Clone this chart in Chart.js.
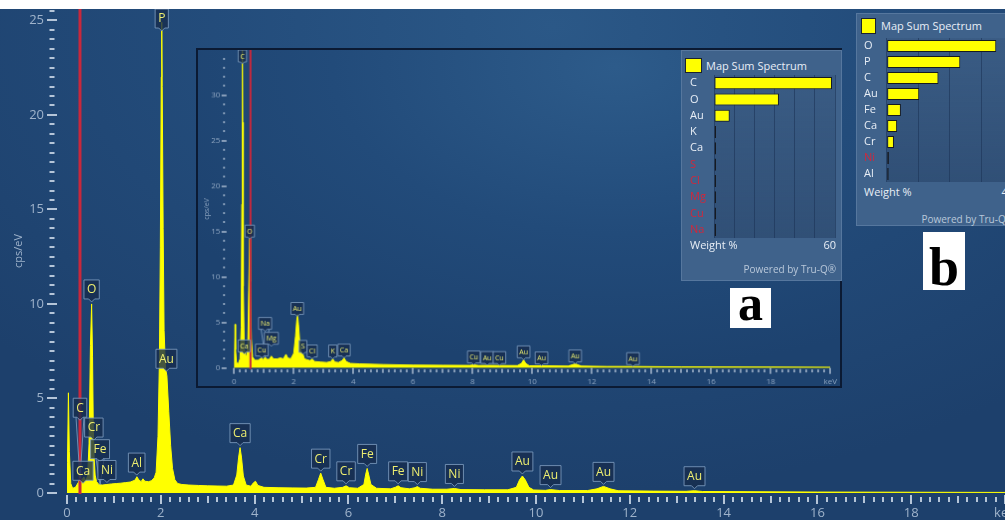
<!DOCTYPE html>
<html>
<head>
<meta charset="utf-8">
<script src="https://cdn.jsdelivr.net/npm/chart.js@4.4.1/dist/chart.umd.min.js"></script>
<style>
  html, body { margin: 0; padding: 0; }
  body {
    width: 1005px; height: 520px; overflow: hidden; position: relative;
    font-family: 'Open Sans', sans-serif;
    background: radial-gradient(ellipse 75% 90% at 55% 5%, #2b5887 0%, #234c7b 45%, #1d406c 100%);
  }
  #topStrip { position: absolute; left: 0; top: 0; width: 1005px; height: 9px; background: #fff; z-index: 5; }
  #mainChart { position: absolute; left: 0; top: 0; }
  #insetChart {
    position: absolute; left: 196px; top: 48px; border: 2px solid #0b1a33;
    background: radial-gradient(ellipse 80% 90% at 65% 5%, #2d5b8a 0%, #224b7a 55%, #1d426f 100%);
  }
  .panel { position: absolute; background: #3f628b; box-shadow: inset 0 0 0 1px rgba(130,160,195,0.35); color: #e8eef6; overflow: hidden; }
  .panel canvas { position: absolute; left: 0; }
  .swatch { position: absolute; background: #ffff00; box-shadow: 0 0 0 1px #1b2230; }
  .ptitle { position: absolute; font-size: 11px; line-height: 15px; white-space: nowrap; }
  .foot { position: absolute; font-size: 11px; line-height: 15px; white-space: nowrap; }
  .powered { position: absolute; font-size: 10px; line-height: 14px; color: #b9c8da; white-space: nowrap; }
  .letter { position: absolute; background: #fff; color: #000; font-family: 'Liberation Serif', 'DejaVu Serif', serif; font-weight: bold; text-align: center; overflow: hidden; }
</style>
</head>
<body>
<div id="topStrip"></div>
<canvas id="mainChart" width="1005" height="520"></canvas>
<canvas id="insetChart" width="646" height="340"></canvas>

<div class="panel" style="left:681px;top:50px;width:161px;height:231px;">
  <div class="swatch" style="left:5px;top:9px;width:15px;height:13px;"></div>
  <div class="ptitle" style="left:25px;top:8px;">Map Sum Spectrum</div>
  <canvas id="barA" width="161" height="163" style="top:25px;"></canvas>
  <div class="foot" style="left:9px;top:187px;">Weight %</div>
  <div class="foot" style="right:6px;top:187px;">60</div>
  <div class="powered" style="right:6px;top:212px;">Powered by Tru-Q®</div>
</div>
<div class="letter" style="left:730px;top:288px;width:41px;height:40px;font-size:50px;line-height:30px;">a</div>

<div class="panel" style="left:856px;top:13px;width:170px;height:213px;">
  <div class="swatch" style="left:6px;top:6px;width:13px;height:14px;"></div>
  <div class="ptitle" style="left:25px;top:5px;">Map Sum Spectrum</div>
  <canvas id="barB" width="160" height="144" style="top:25px;"></canvas>
  <div class="foot" style="left:8px;top:171px;">Weight %</div>
  <div class="foot" style="right:12px;top:171px;">40</div>
  <div class="powered" style="right:12px;top:199px;">Powered by Tru-Q®</div>
</div>
<div class="letter" style="left:923px;top:232px;width:42px;height:58px;font-size:54px;line-height:70px;">b</div>

<script>
// main spectrum (b)
const mainKeV = [0, 0.01, 0.03, 0.05, 0.08, 0.12, 0.18, 0.24, 0.28, 0.32, 0.36, 0.40, 0.44, 0.47, 0.50, 0.525, 0.545, 0.56, 0.58, 0.60,
  0.63, 0.68, 0.75, 0.85, 0.95, 1.05, 1.15, 1.25, 1.35, 1.45, 1.49, 1.53, 1.58, 1.62, 1.66, 1.74, 1.80, 1.86, 1.90, 1.94,
  1.97, 1.99, 2.01, 2.02, 2.03, 2.05, 2.07, 2.10, 2.13, 2.17, 2.21, 2.25, 2.30, 2.36, 2.45, 2.6, 2.8, 3.0, 3.2, 3.4,
  3.55, 3.62, 3.66, 3.69, 3.72, 3.76, 3.82, 3.92, 3.98, 4.02, 4.07, 4.2, 4.5, 4.8, 5.1, 5.3, 5.36, 5.41, 5.46, 5.52,
  5.7, 5.88, 5.95, 6.02, 6.2, 6.33, 6.37, 6.40, 6.43, 6.48, 6.6, 6.9, 7.0, 7.06, 7.12, 7.3, 7.42, 7.47, 7.53, 7.8,
  8.1, 8.26, 8.4, 8.9, 9.4, 9.58, 9.65, 9.71, 9.77, 9.85, 9.95, 10.2, 10.31, 10.5, 11.1, 11.3, 11.44, 11.58, 11.75, 12.5,
  13.2, 13.38, 13.55, 14.5, 16, 18, 20];
const mainCps = [0, 1.6, 5.3, 2.2, 0.5, 0.25, 0.3, 0.55, 0.8, 0.7, 0.85, 0.65, 0.9, 2.6, 7.8, 10.0, 7.2, 3.6, 1.8, 0.95,
  0.6, 0.45, 0.42, 0.45, 0.48, 0.5, 0.52, 0.55, 0.58, 0.68, 0.86, 0.7, 0.6, 0.75, 0.62, 0.6, 0.65, 0.8, 1.1, 3.0,
  7.0, 13.0, 22.0, 24.9, 21.5, 14.0, 8.6, 6.6, 6.2, 4.3, 2.5, 1.3, 0.7, 0.5, 0.45, 0.42, 0.4, 0.38, 0.37, 0.36,
  0.42, 0.95, 1.9, 2.4, 1.9, 0.9, 0.42, 0.36, 0.55, 0.62, 0.4, 0.3, 0.28, 0.27, 0.26, 0.3, 0.7, 1.05, 0.7, 0.3,
  0.25, 0.3, 0.38, 0.28, 0.25, 0.45, 1.0, 1.3, 1.0, 0.45, 0.25, 0.22, 0.3, 0.38, 0.28, 0.22, 0.28, 0.34, 0.25, 0.2,
  0.2, 0.24, 0.18, 0.17, 0.17, 0.3, 0.7, 0.9, 0.7, 0.3, 0.16, 0.14, 0.18, 0.13, 0.13, 0.22, 0.35, 0.22, 0.12, 0.1,
  0.09, 0.12, 0.08, 0.07, 0.05, 0.04, 0.03];
const mainPeakNames = ['P', 'O', 'Au', 'C', 'Cr', 'Fe', 'Ni', 'Ca', 'Al', 'Ca', 'Cr', 'Cr', 'Fe', 'Fe', 'Ni', 'Ni', 'Au', 'Au', 'Au', 'Au'];
const mainPeakKeV = [2.02, 0.525, 2.12, 0.277, 0.573, 0.705, 0.851, 0.341, 1.486, 3.69, 5.41, 5.95, 6.40, 7.06, 7.47, 8.26, 9.71, 10.31, 11.44, 13.38];
const mainMarkerKeV = 0.277;

// inset spectrum (a)
const insetKeV = [0, 0.01, 0.03, 0.05, 0.08, 0.14, 0.2, 0.24, 0.26, 0.277, 0.29, 0.31, 0.34, 0.38, 0.42, 0.46, 0.49, 0.525, 0.55, 0.58,
  0.62, 0.7, 0.8, 0.93, 0.98, 1.04, 1.1, 1.18, 1.25, 1.32, 1.45, 1.55, 1.65, 1.74, 1.8, 1.9, 2.0, 2.06, 2.1, 2.13,
  2.16, 2.2, 2.25, 2.31, 2.36, 2.45, 2.55, 2.62, 2.7, 2.9, 3.1, 3.25, 3.31, 3.38, 3.5, 3.62, 3.69, 3.76, 3.9, 4.2,
  5, 6, 7, 7.9, 8.04, 8.2, 8.49, 8.9, 9.5, 9.64, 9.71, 9.78, 9.9, 10.31, 11.2, 11.44, 11.65, 12.5, 13.38, 15,
  18, 20];
const insetCps = [0, 1.5, 4.8, 2.0, 0.6, 0.45, 1.0, 4.5, 18, 36, 27, 9, 2.2, 1.4, 1.3, 2.6, 8.5, 14.5, 9.5, 3.2,
  1.2, 0.85, 0.85, 1.1, 0.9, 1.2, 0.95, 0.95, 1.3, 1.0, 1.0, 1.1, 1.0, 1.5, 1.1, 1.0, 1.6, 3.5, 5.2, 5.9,
  4.8, 3.0, 1.8, 1.5, 1.0, 0.9, 0.8, 1.0, 0.7, 0.65, 0.6, 0.7, 1.0, 0.65, 0.6, 0.8, 1.1, 0.7, 0.5, 0.45,
  0.38, 0.32, 0.3, 0.28, 0.34, 0.27, 0.28, 0.27, 0.26, 0.5, 0.9, 0.5, 0.24, 0.24, 0.2, 0.45, 0.2, 0.16, 0.16, 0.12,
  0.1, 0.08];
const insetPeakNames = ['C', 'O', 'Au', 'Na', 'Mg', 'Cu', 'Ca', 'S', 'Cl', 'K', 'Ca', 'Cu', 'Au', 'Cu', 'Au', 'Au', 'Au', 'Au'];
const insetPeakKeV = [0.277, 0.525, 2.12, 1.04, 1.25, 0.93, 0.34, 2.31, 2.62, 3.31, 3.69, 8.04, 8.49, 8.9, 9.71, 10.31, 11.44, 13.38];
const insetMarkerKeV = 0.55;

// quant panels
const weightElemA = ['C', 'O', 'Au', 'K', 'Ca', 'S', 'Cl', 'Mg', 'Cu', 'Na'];
const weightA = [58.5, 32.2, 7.8, 0.4, 0.4, 0.2, 0.2, 0.1, 0.1, 0.1];
const flaggedA = ['S', 'Cl', 'Mg', 'Cu', 'Na'];
const weightElemB = ['O', 'P', 'C', 'Au', 'Fe', 'Ca', 'Cr', 'Ni', 'Al'];
const weightB = [34.7, 23.3, 16.4, 10.3, 4.5, 3.3, 2.3, 0.7, 0.1];
const flaggedB = ['Ni'];

const FONT = "'Open Sans', sans-serif";

function valueAt(xs, ys, e) {
  for (let i = 1; i < xs.length; i++) {
    if (xs[i] >= e) {
      const t = (e - xs[i - 1]) / (xs[i] - xs[i - 1]);
      return ys[i - 1] + t * (ys[i] - ys[i - 1]);
    }
  }
  return ys[ys.length - 1];
}

// red marker line + element labels
const spectrumMarks = {
  id: 'spectrumMarks',
  afterDatasetsDraw(chart, args, o) {
    const { ctx, chartArea: a, scales: { x, y } } = chart;
    ctx.save();
    const rx = x.getPixelForValue(o.markerKeV);
    ctx.strokeStyle = '#c8283c';
    ctx.lineWidth = o.markerWidth;
    ctx.beginPath();
    ctx.moveTo(rx, 0);
    ctx.lineTo(rx, a.bottom + 1);
    ctx.stroke();

    ctx.font = o.fontSize + 'px ' + FONT;
    ctx.textAlign = 'center';
    ctx.textBaseline = 'middle';
    o.names.forEach((name, i) => {
      const e = o.keV[i];
      const px = x.getPixelForValue(e);
      const v = Math.min(valueAt(o.xs, o.ys, e), y.max);
      const py = y.getPixelForValue(v);
      const w = ctx.measureText(name).width + o.padX * 2;
      const h = o.boxH;
      let bottom = py - o.gap - (o.lift[i] || 0);
      let top = bottom - h;
      if (top < a.top) { top = a.top; bottom = top + h; }
      const left = px - w / 2;
      const tip = o.tip;
      ctx.strokeStyle = 'rgba(125,155,190,0.85)';
      ctx.lineWidth = 1;
      if (py - bottom > 12) {
        ctx.beginPath();
        ctx.moveTo(px - 4, bottom);
        ctx.lineTo(px, py);
        ctx.lineTo(px + 4, bottom);
        ctx.stroke();
      }
      ctx.beginPath();
      ctx.moveTo(left, top);
      ctx.lineTo(left + w, top);
      ctx.lineTo(left + w, bottom);
      ctx.lineTo(px + tip, bottom);
      ctx.lineTo(px, bottom + tip);
      ctx.lineTo(px - tip, bottom);
      ctx.lineTo(left, bottom);
      ctx.closePath();
      ctx.fillStyle = 'rgba(22,44,78,0.8)';
      ctx.fill();
      ctx.stroke();
      ctx.fillStyle = '#eeee70';
      ctx.fillText(name, px, (top + bottom) / 2 + 0.5);
    });
    ctx.restore();
  }
};

// tick marks along both axes
const axisMarks = {
  id: 'axisMarks',
  afterDraw(chart, args, o) {
    const { ctx, chartArea: a, scales: { x, y } } = chart;
    ctx.save();
    ctx.fillStyle = o.color;
    const near = (v, s) => Math.abs(v / s - Math.round(v / s)) < 1e-6;
    for (let i = 0; i * o.xMinor <= x.max + 1e-9; i++) {
      const v = i * o.xMinor;
      const px = x.getPixelForValue(v);
      const len = near(v, 2) ? o.xLen[2] : near(v, 1) ? o.xLen[1] : o.xLen[0];
      ctx.fillRect(Math.round(px) - o.tw / 2, a.bottom + o.xOff + (o.xLen[2] - len) / 2, o.tw, len);
    }
    for (let i = 0; i * o.yMinor <= y.max + 1e-9; i++) {
      const v = i * o.yMinor;
      const py = y.getPixelForValue(v);
      const len = near(v, 5) ? o.yLen[1] : o.yLen[0];
      ctx.fillRect(o.yCenter - len / 2, Math.round(py) - o.tw / 2, len, o.tw);
    }
    ctx.restore();
  }
};

function spectrumChart(id, xs, ys, cfg) {
  return new Chart(document.getElementById(id), {
    type: 'line',
    data: {
      datasets: [{
        data: xs.map((e, i) => ({ x: e, y: ys[i] })),
        fill: 'origin',
        backgroundColor: '#ffff00',
        borderColor: '#ffff00',
        borderWidth: cfg.lineW,
        pointRadius: 0,
        tension: 0
      }]
    },
    options: {
      responsive: false,
      animation: false,
      devicePixelRatio: 1,
      layout: { padding: cfg.pad, autoPadding: false },
      plugins: {
        legend: { display: false },
        tooltip: { enabled: false },
        spectrumMarks: cfg.marks,
        axisMarks: cfg.axis
      },
      scales: {
        x: {
          type: 'linear', min: 0, max: 20,
          afterFit: s => { s.height = cfg.xH; s.paddingLeft = 0; s.paddingRight = 0; },
          grid: { display: false, drawTicks: true, tickLength: cfg.xTick },
          border: { display: false },
          ticks: {
            stepSize: 2, autoSkip: false, maxRotation: 0, padding: cfg.xPad,
            color: cfg.labelColor, font: { size: cfg.xFont, family: FONT },
            callback: v => v === 20 ? 'keV' : v
          }
        },
        y: {
          min: 0, max: cfg.yMax,
          afterFit: s => { s.width = cfg.yW; s.paddingTop = 0; s.paddingBottom = 0; },
          grid: { display: false, drawTicks: true, tickLength: cfg.yTick },
          border: { display: false },
          ticks: {
            stepSize: 5, includeBounds: false, padding: cfg.yPad,
            color: cfg.labelColor, font: { size: cfg.yFont, family: FONT }
          },
          title: {
            display: true, text: 'cps/eV', color: cfg.labelColor,
            font: { size: cfg.titleFont, family: FONT }, padding: { top: cfg.titlePad, bottom: 0 }
          }
        }
      }
    },
    plugins: [spectrumMarks, axisMarks]
  });
}

spectrumChart('mainChart', mainKeV, mainCps, {
  lineW: 1, pad: { top: 9, left: 0, right: 0, bottom: 0 },
  xH: 27, yW: 67, yMax: 25.6, xTick: 8, xPad: 4, yTick: 10, yPad: 13,
  xFont: 13, yFont: 13, titleFont: 11, titlePad: 12, labelColor: '#9fb3cb',
  marks: {
    names: mainPeakNames, keV: mainPeakKeV, xs: mainKeV, ys: mainCps,
    markerKeV: mainMarkerKeV, markerWidth: 3, fontSize: 12, padX: 3, boxH: 19, gap: 5, tip: 3,
    lift: { 3: 56, 4: 5, 5: 21, 7: -7 }
  },
  axis: { color: '#b5c5d8', tw: 2, xMinor: 0.2, xLen: [5, 7, 9], xOff: 2, yMinor: 0.5, yLen: [5, 10], yCenter: 52 }
});

spectrumChart('insetChart', insetKeV, insetCps, {
  lineW: 1, pad: { top: 0, left: 0, right: 9.7, bottom: 0 },
  xH: 18.3, yW: 36.3, yMax: 34.95, xTick: 5, xPad: 4, yTick: 6, yPad: 8,
  xFont: 8, yFont: 8, titleFont: 7, titlePad: 5, labelColor: '#8ea5c0',
  marks: {
    names: insetPeakNames, keV: insetPeakKeV, xs: insetKeV, ys: insetCps,
    markerKeV: insetMarkerKeV, markerWidth: 2, fontSize: 7, padX: 2, boxH: 12, gap: 2, tip: 2,
    lift: { 1: -3, 3: 26, 4: 10, 6: -6 }
  },
  axis: { color: '#a9bbd0', tw: 1.5, xMinor: 0.2, xLen: [3, 4, 6], xOff: 0, yMinor: 1, yLen: [2, 5], yCenter: 26.2 }
});

// shaded plot area inside the quant panels
const plotShade = {
  id: 'plotShade',
  beforeDraw(chart) {
    const { ctx, chartArea: a } = chart;
    const g = ctx.createLinearGradient(0, a.top, 0, a.bottom);
    g.addColorStop(0, 'rgba(25,50,85,0.12)');
    g.addColorStop(1, 'rgba(25,50,85,0.38)');
    ctx.save();
    ctx.fillStyle = g;
    ctx.fillRect(a.left, a.top, a.right - a.left, a.bottom - a.top);
    ctx.restore();
  }
};

function weightChart(id, labels, values, flagged, cfg) {
  return new Chart(document.getElementById(id), {
    type: 'bar',
    data: {
      labels: labels,
      datasets: [{
        data: values,
        backgroundColor: '#ffff00',
        borderColor: '#161a20',
        borderWidth: 1,
        borderSkipped: false,
        minBarLength: 2,
        barPercentage: 0.74,
        categoryPercentage: 1
      }]
    },
    options: {
      indexAxis: 'y',
      responsive: false,
      animation: false,
      devicePixelRatio: 1,
      layout: { padding: { left: cfg.padL, right: cfg.padR, top: 0, bottom: 0 }, autoPadding: false },
      plugins: { legend: { display: false }, tooltip: { enabled: false } },
      scales: {
        x: {
          min: 0, max: cfg.max,
          afterFit: s => { s.height = 0; s.paddingLeft = 0; s.paddingRight = 0; },
          ticks: { display: false, stepSize: 10 },
          border: { display: false },
          grid: { color: 'rgba(28,52,86,0.6)', drawTicks: false, lineWidth: 1 }
        },
        y: {
          afterFit: s => { s.width = cfg.yW; s.paddingTop = 0; s.paddingBottom = 0; },
          grid: { display: false, drawTicks: false },
          border: { display: false },
          ticks: {
            autoSkip: false, padding: 0, crossAlign: 'far',
            font: { size: 11, family: FONT },
            color: c => flagged.includes(labels[c.index]) ? '#d0283c' : '#e8eef6'
          }
        }
      }
    },
    plugins: [plotShade]
  });
}

weightChart('barA', weightElemA, weightA, flaggedA, { max: 60, padL: 9, padR: 7, yW: 24 });
weightChart('barB', weightElemB, weightB, flaggedB, { max: 40, padL: 8, padR: 3, yW: 22.7 });
</script>
</body>
</html>
